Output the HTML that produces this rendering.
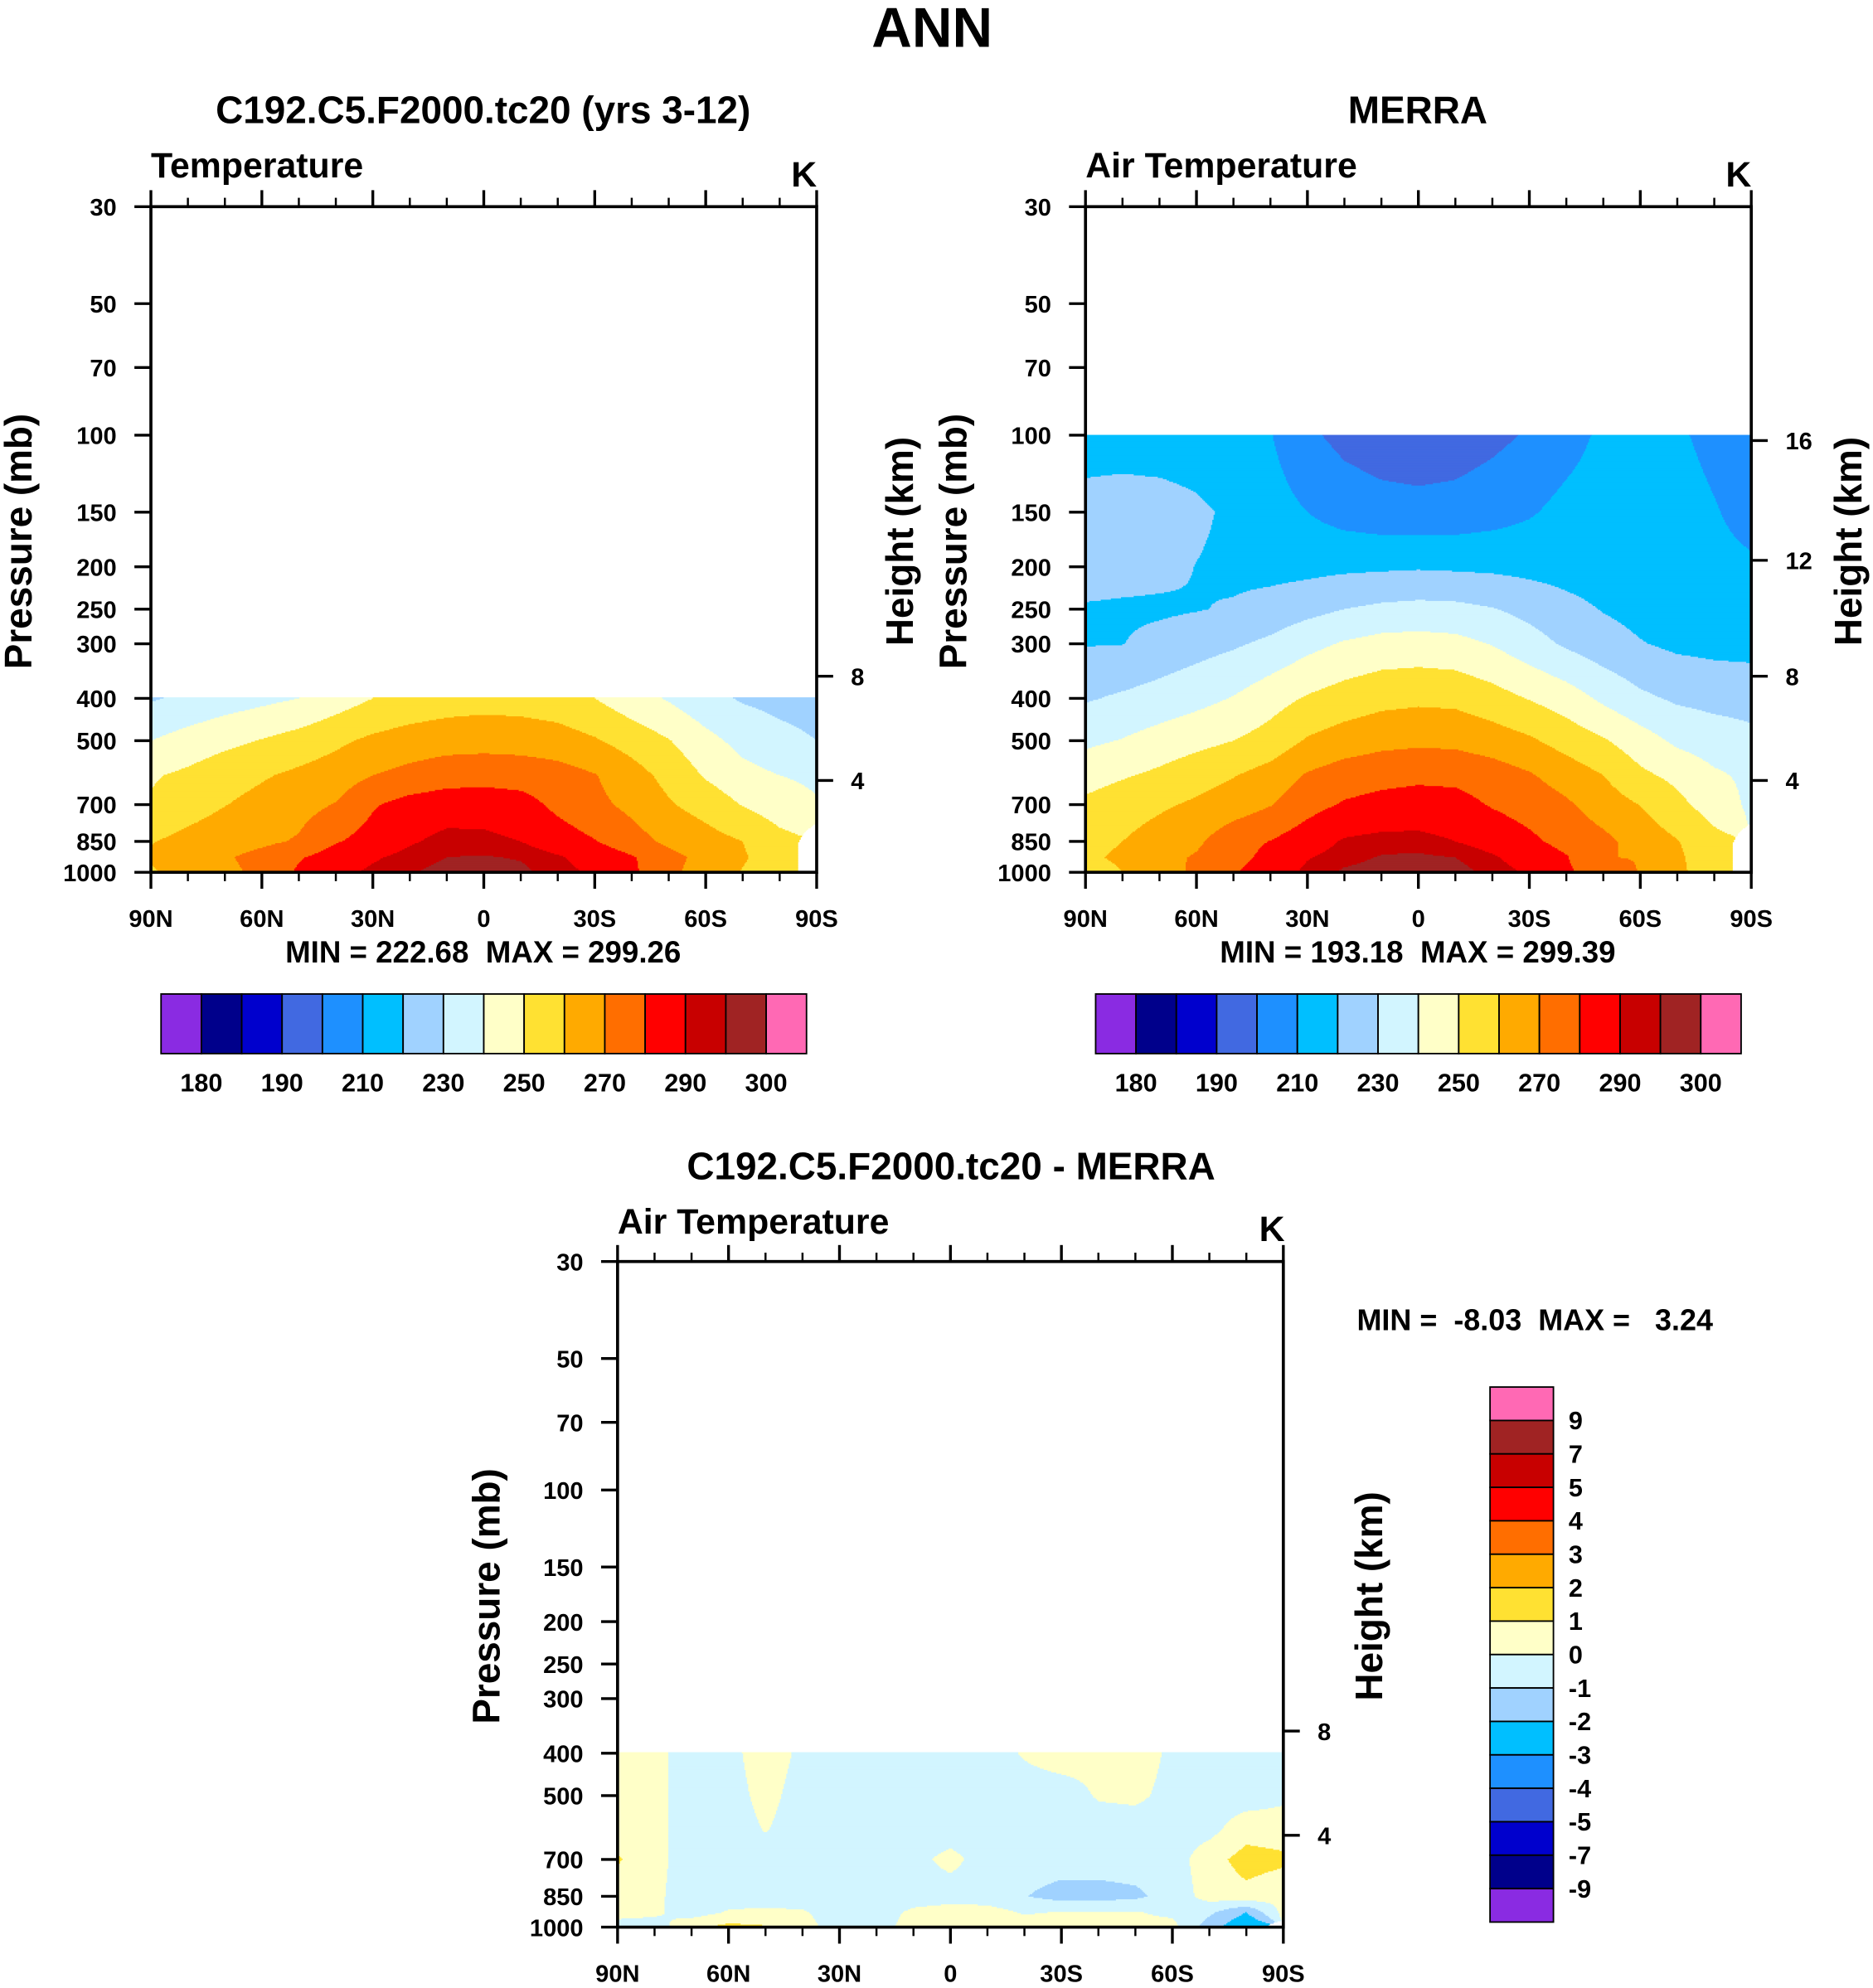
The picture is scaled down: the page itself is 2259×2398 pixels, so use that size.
<!DOCTYPE html>
<html><head><meta charset="utf-8"><title>ANN Temperature</title>
<style>
body{margin:0;background:#fff;}
svg{display:block;}
text{font-family:"Liberation Sans",Arial,sans-serif;font-weight:bold;fill:#000;white-space:pre;}
</style></head>
<body>
<svg id="fig" width="2259" height="2398" viewBox="0 0 1477 1568" preserveAspectRatio="none" xmlns="http://www.w3.org/2000/svg">
<rect x="0" y="0" width="1477" height="1568" fill="#fff"/>
<text x="735" y="37" font-size="44" text-anchor="middle">ANN</text>

<text x="381" y="97" font-size="30" text-anchor="middle">C192.C5.F2000.tc20 (yrs 3-12)</text>
<text x="119" y="140" font-size="28">Temperature</text>
<text x="634" y="147" font-size="28" text-anchor="middle">K</text>
<text transform="translate(25,427) rotate(-90)" font-size="30" text-anchor="middle">Pressure (mb)</text>
<text transform="translate(720,427) rotate(-90)" font-size="30" text-anchor="middle">Height (km)</text>
<text x="381" y="759" font-size="24" text-anchor="middle">MIN = 222.68  MAX = 299.26</text>

<text x="1118" y="97" font-size="30" text-anchor="middle">MERRA</text>
<text x="856" y="140" font-size="28">Air Temperature</text>
<text x="1371" y="147" font-size="28" text-anchor="middle">K</text>
<text transform="translate(762,427) rotate(-90)" font-size="30" text-anchor="middle">Pressure (mb)</text>
<text transform="translate(1468,427) rotate(-90)" font-size="30" text-anchor="middle">Height (km)</text>
<text x="1118" y="759" font-size="24" text-anchor="middle">MIN = 193.18  MAX = 299.39</text>

<text x="750" y="930" font-size="30" text-anchor="middle">C192.C5.F2000.tc20 - MERRA</text>
<text x="487" y="973" font-size="28">Air Temperature</text>
<text x="1003" y="979" font-size="28" text-anchor="middle">K</text>
<text transform="translate(394,1259) rotate(-90)" font-size="30" text-anchor="middle">Pressure (mb)</text>
<text transform="translate(1090,1259) rotate(-90)" font-size="30" text-anchor="middle">Height (km)</text>
<text x="1070" y="1049" font-size="23.5">MIN =  -8.03  MAX =   3.24</text>
</svg>
<script>
// ---------- data ----------
const LATS = [90,80,70,60,50,40,30,20,10,0,-10,-20,-30,-40,-50,-60,-70,-80,-90];
const PRESSURE_TICKS = [30,50,70,100,150,200,250,300,400,500,700,850,1000];
const LAT_TICK_LABELS = ["90N","60N","30N","0","30S","60S","90S"];
const TEMP_LEVELS = [180,185,190,200,210,220,230,240,250,260,270,280,290,295,300];
const TEMP_LABELS = ["180","190","210","230","250","270","290","300"];
const DIFF_LEVELS = [-9,-7,-5,-4,-3,-2,-1,0,1,2,3,4,5,7,9];
const DIFF_LABELS = ["9","7","5","4","3","2","1","0","-1","-2","-3","-4","-5","-7","-9"];
const FILL_COLORS = ["#8a2be2","#00008b","#0000cd","#4169e1","#1e90ff","#00bfff","#a0d2ff","#d2f5ff","#ffffc8","#ffe132","#ffaa00","#ff6e00","#ff0000","#c80000","#a02323","#ff69b4"];

const MODEL_LEVELS = [400,500,600,700,850,925,1000];
const MODEL_T_400 = [229,232,235,237.5,240,245,250,253,255,256,255.5,254,250,244,239,233,229,227,226];
const MODEL_T_500 = [240,244,247.5,250.5,254,258,262,264.5,266,266.5,266,264.5,261,256,250.5,243,237,233,230];
const MODEL_T_600 = [249,252,256,259,262,265,270,273,275.5,276,275.5,274,270.5,264,257,249,243,240,238];
const MODEL_T_700 = [251,255.5,259.7,263,266.5,270.5,279,283.5,285.5,286,284,277.6,272.5,267.5,261,256,249.5,245,241];
const MODEL_T_850 = [259.5,263,266,268,271,279.2,284,289,292.5,292,290,285,280.5,274,268,264,260,253,NaN];
const MODEL_T_925 = [261,265,269,273,279,285,289,292.5,295,295.5,294.5,291,286.5,281,273,267,261,255,NaN];
const MODEL_T_1000 = [259,263,267.5,272.5,281.5,287.5,291.5,294.5,297,297.5,296.5,292,289,282,272,266,259.5,254,NaN];

const MERRA_LEVELS = [100,150,200,250,300,400,500,600,700,850,925,1000];
const MERRA_T_100 = [215,215,214.5,214,212,210.5,202,197,194.5,193.2,194.5,197.5,201,206,212,214,211,208,206];
const MERRA_T_150 = [224,225,224.5,222,218,214,210,206,204,203.5,204,206,209,213,215,215,213,210.5,207.5];
const MERRA_T_200 = [225,224,222.5,219.8,217.5,216.5,217,218,218.5,219,218.5,218,217,216,215,214,213,212,211];
const MERRA_T_250 = [219,218.5,218.5,219.5,221,224,227,230,232,233,232.5,230.5,227,223,219.5,217,215.5,214.5,214];
const MERRA_T_300 = [219.5,219.8,223,226,228.7,232,237,241,243.5,244,243,239.5,234,228.5,224,220.5,218,217,216.5];
const MERRA_T_400 = [229,231.5,234,237,240.5,246,251,254.5,257,258,257.5,254,249.5,245,238,232,228.5,227,226.5];
const MERRA_T_500 = [238,240.5,244,247,250,254,261,264.5,267,268,267.5,265,261.5,256,251,244.5,238,235,232.5];
const MERRA_T_600 = [246,249,252,256,259.5,264,271,275,277,278,277.5,275,271,265.5,260,252,247.5,241.5,238];
const MERRA_T_700 = [252,255.5,258.5,261.5,265,269.5,276.5,281,283,284,283.5,279.2,276,271.5,265,259.7,252.5,245.5,238];
const MERRA_T_850 = [258,260,264.2,268.3,276.2,280.3,285.5,291,292.5,292.5,290,286.5,282,277,272.5,266,260.5,253,NaN];
const MERRA_T_925 = [259,261,267,271,276.5,283,289.5,293,295.5,296,295,291,286,280.7,270.3,269.6,261.9,253,NaN];
const MERRA_T_1000 = [257,260,265.9,271.8,279.4,284.8,291.8,296,297.5,298,297.5,293,289,281.5,275.5,269.5,262,255,NaN];

const DIFF_T_400 = [0.6,0.3,-0.5,-0.3,0.5,-0.2,-0.5,-0.5,-0.5,-0.5,-0.5,0.1,0.5,0.3,0.5,-0.2,-0.5,-0.5,-0.4];
const DIFF_T_500 = [0.6,0.3,-0.5,-0.4,0.3,-0.4,-0.5,-0.5,-0.5,-0.5,-0.5,-0.5,-0.5,0.1,0.2,-0.3,-0.5,-0.5,-0.2];
const DIFF_T_600 = [0.6,0.3,-0.5,-0.5,0.05,-0.5,-0.5,-0.5,-0.5,-0.5,-0.5,-0.5,-0.5,-0.5,-0.5,-0.5,-0.3,0.6,0.5];
const DIFF_T_700 = [1.1,0.3,-0.5,-0.5,-0.5,-0.5,-0.5,-0.5,-0.3,0.3,-0.5,-0.5,-0.5,-0.5,-0.5,-0.5,0.6,1.4,1.2];
const DIFF_T_850 = [0.5,0.2,-0.5,-0.5,-0.5,-0.5,-0.5,-0.5,-0.5,-0.5,-0.5,-0.95,-1.4,-1.4,-1.2,-0.6,0.4,0.7,0.3];
const DIFF_T_925 = [0.5,0.2,-0.5,0.1,0.2,0.1,-0.5,-0.5,0.2,0.5,0.4,-0.1,0.05,0.05,0.05,-0.2,-0.8,-2.0,0.3];
const DIFF_T_1000 = [-0.6,-0.5,0.8,1.3,1.1,0.4,-0.5,-0.5,0.5,0.5,0.5,0.5,0.5,0.5,0.3,0.3,-1.5,-3,NaN];

const MODEL_T = [MODEL_T_400,MODEL_T_500,MODEL_T_600,MODEL_T_700,MODEL_T_850,MODEL_T_925,MODEL_T_1000];
const MERRA_T = [MERRA_T_100,MERRA_T_150,MERRA_T_200,MERRA_T_250,MERRA_T_300,MERRA_T_400,MERRA_T_500,MERRA_T_600,MERRA_T_700,MERRA_T_850,MERRA_T_925,MERRA_T_1000];
const DIFF_T = [DIFF_T_400,DIFF_T_500,DIFF_T_600,DIFF_T_700,DIFF_T_850,DIFF_T_925,DIFF_T_1000];

// ---------- drawing ----------
const NS = "http://www.w3.org/2000/svg";
const svg = document.getElementById("fig");
function mk(tag, attrs, parent){
  const el = document.createElementNS(NS, tag);
  for (const k in attrs) el.setAttribute(k, attrs[k]);
  (parent || svg).appendChild(el);
  return el;
}
function colorFor(v, levels){
  let k = 0;
  while (k < levels.length && v >= levels[k]) k++;
  return FILL_COLORS[k];
}
function heightToP(zkm){
  const z = zkm*1000;
  if (z <= 11000) return 1013.25*Math.pow(1-2.25577e-5*z, 5.25588);
  return 226.32*Math.exp(-(z-11000)/6341.6);
}

function drawPanel(cfg){
  const L = cfg.left, T = cfg.top, W = 525, H = 525, R = L+W, B = T+H;
  const LN = Math.log(1000/30);
  const yOf = p => T + H*Math.log(p/30)/LN;
  const pOf = y => 30*Math.exp((y-T)/H*LN);
  const xOf = lat => L + (90-lat)/180*W;

  const g = mk("g", {});
  
  

  const lev = cfg.levels, data = cfg.data, nl = LATS.length;
  const yStart = Math.floor(yOf(lev[0]));
  for (let y = yStart; y < B; y++){
    const p = Math.min(1000, Math.max(lev[0], pOf(y+0.5)));
    let k = 0;
    while (k < lev.length-2 && p > lev[k+1]) k++;
    const t = (Math.log(p)-Math.log(lev[k]))/(Math.log(lev[k+1])-Math.log(lev[k]));
    let runStart = L, runColor = null;
    const flush = (xe) => {
      if (runColor){
        const r = mk("rect", {x:runStart, y:y, width:(xe-runStart)+0.4, height:1.4, fill:runColor}, g);
        
        
      }
    };
    for (let x = L; x < R; x++){
      const lat = 90 - (x+0.5-L)/W*180;
      let f = (90-lat)/180*(nl-1);
      let i = Math.min(nl-2, Math.floor(f));
      const s = f - i;
      const corners = [[data[k][i],(1-s)*(1-t)],[data[k][i+1],s*(1-t)],[data[k+1][i],(1-s)*t],[data[k+1][i+1],s*t]];
      let ws = 0, vs = 0;
      for (const [v,w] of corners){ if (!isNaN(v)){ ws += w; vs += v*w; } }
      let c = null;
      if (ws >= 0.5) c = colorFor(vs/ws, cfg.clevels);
      if (c !== runColor){ flush(x); runStart = x; runColor = c; }
    }
    flush(R);
  }

  const frame = mk("rect", {x:L, y:T, width:W, height:H, fill:"none", stroke:"#000", "stroke-width":2.4});
  
  

  PRESSURE_TICKS.forEach(p => {
    const y = yOf(p);
    const tk = mk("line", {x1:L-13, x2:L, y1:y, y2:y, stroke:"#000", "stroke-width":2.2});
    
    
    const lb = mk("text", {x:L-27, y:y+7, "font-size":19, "text-anchor":"end"});
    lb.textContent = String(p);
    
    
  });
  cfg.heights.forEach(z => {
    const y = yOf(heightToP(z));
    const tk = mk("line", {x1:R, x2:R+13, y1:y, y2:y, stroke:"#000", "stroke-width":2.2});
    
    
    const lb = mk("text", {x:R+27, y:y+7, "font-size":19});
    lb.textContent = String(z);
    
    
  });
  for (let lat = 90; lat >= -90; lat -= 10){
    const x = xOf(lat);
    const major = (lat % 30 === 0);
    const len = major ? 13 : 7;
    const t1 = mk("line", {x1:x, x2:x, y1:T-len, y2:T, stroke:"#000", "stroke-width":major?2.2:1.6});
    
    
    const t2 = mk("line", {x1:x, x2:x, y1:B, y2:B+len, stroke:"#000", "stroke-width":major?2.2:1.6});
    
    
  }
  LAT_TICK_LABELS.forEach((s, j) => {
    const lb = mk("text", {x:xOf(90-30*j), y:B+43, "font-size":19, "text-anchor":"middle"});
    lb.textContent = s;
    
    
  });
}

function drawHBar(name, x0, y0, w, h){
  const n = FILL_COLORS.length, bw = w/n;
  FILL_COLORS.forEach((c, k) => {
    const r = mk("rect", {x:x0+k*bw, y:y0, width:bw, height:h, fill:c, stroke:"#000", "stroke-width":1.2});
    
    
  });
  TEMP_LABELS.forEach((s) => {
    const idx = TEMP_LEVELS.indexOf(Number(s));
    const lb = mk("text", {x:x0+(idx+1)*bw, y:y0+h+30, "font-size":20, "text-anchor":"middle"});
    lb.textContent = s;
    
    
  });
}

function drawVBar(name, x0, y0, w, h){
  const n = FILL_COLORS.length, bh = h/n;
  for (let k = 0; k < n; k++){
    const c = FILL_COLORS[n-1-k];
    const r = mk("rect", {x:x0, y:y0+k*bh, width:w, height:bh, fill:c, stroke:"#000", "stroke-width":1.2});
    
    
  }
  DIFF_LABELS.forEach((s, j) => {
    const lb = mk("text", {x:x0+w+12, y:y0+(j+1)*bh+7, "font-size":20});
    lb.textContent = s;
    
    
  });
}

drawPanel({name:"model", left:119, top:163, levels:MODEL_LEVELS, data:MODEL_T, clevels:TEMP_LEVELS, heights:[4,8]});
drawPanel({name:"merra", left:856, top:163, levels:MERRA_LEVELS, data:MERRA_T, clevels:TEMP_LEVELS, heights:[4,8,12,16]});
drawPanel({name:"diff", left:487, top:995, levels:MODEL_LEVELS, data:DIFF_T, clevels:DIFF_LEVELS, heights:[4,8]});
drawHBar("model", 127, 784, 509, 47);
drawHBar("merra", 864, 784, 509, 47);
drawVBar("diff", 1175, 1094, 50, 422);
</script>
</body></html>
